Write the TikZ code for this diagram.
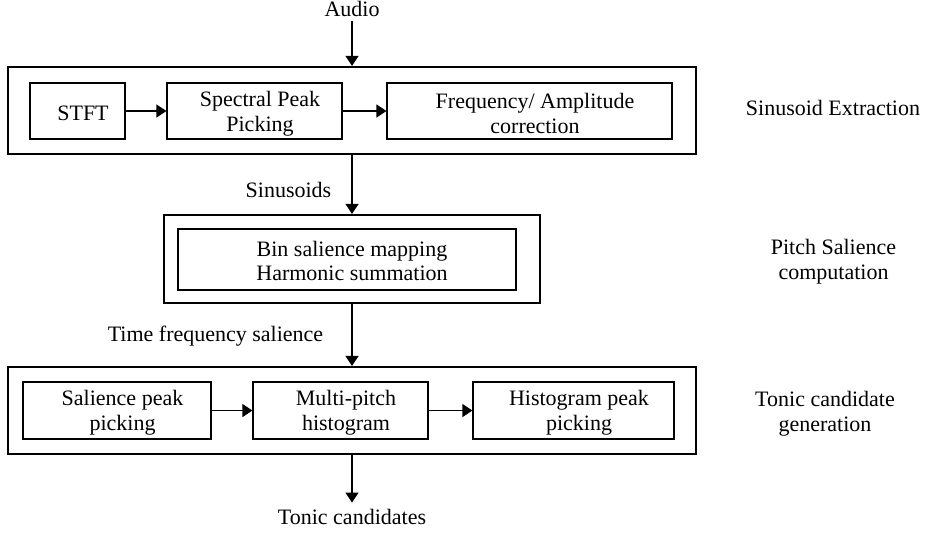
\documentclass[tikz,border=0pt]{standalone}
\usepackage{fontspec}
\setmainfont{Liberation Serif}
\usetikzlibrary{arrows.meta}
\begin{document}
\begin{tikzpicture}[x=1pt,y=-1pt,
  every node/.style={font=\fontsize{22}{25}\selectfont},
  grp/.style={draw, line width=2.2pt, inner sep=0pt},
  blk/.style={draw, line width=1.2pt, inner sep=0pt},
  txt/.style={inner sep=0pt, align=center},
  intext/.style={txt, xshift=5.5pt, yshift=-2.5pt},
  arr/.style={line width=1.2pt, -{Triangle[length=10pt,width=13pt]}}]
\useasboundingbox (0,0) rectangle (925,536);

% stage 1: sinusoid extraction
\node[txt, anchor=base] (audio) at (352,16) {Audio};
\node[grp, minimum width=688pt, minimum height=87pt] (ext) at (352,110.5) {};
\node[blk, minimum width=95pt, minimum height=56pt,
      label={[intext]center:STFT}] (stft) at (77.5,111) {};
\node[blk, minimum width=175pt, minimum height=56pt,
      label={[intext]center:Spectral Peak\\Picking}] (spp) at (254.5,111) {};
\node[blk, minimum width=285pt, minimum height=56pt,
      label={[intext]center:Frequency/ Amplitude\\correction}] (fac) at (529.5,111) {};
\node[txt, anchor=base] (lext) at (833,115) {Sinusoid Extraction};

\draw[arr, shorten <=5pt] (audio.south) -- (ext.north);
\draw[arr] (stft) -- (spp);
\draw[arr] (spp) -- (fac);

% stage 2: pitch salience
\node[txt, anchor=base] (sin) at (288.5,197) {Sinusoids};
\node[grp, minimum width=376pt, minimum height=88pt] (sal) at (352,259) {};
\node[blk, minimum width=338pt, minimum height=61pt,
      label={[txt, xshift=5pt, yshift=-1pt]center:Bin salience mapping\\[-1pt]Harmonic summation}] (bsm) at (347,259.5) {};
\node[txt] (lsal) at (833.5,262) {Pitch Salience\\computation};

\draw[arr] (ext.south) -- (sal.north);

% stage 3: tonic candidate generation
\node[txt, anchor=base] (tfs) at (215.5,341.5) {Time frequency salience};
\node[grp, minimum width=688pt, minimum height=87pt] (gen) at (352,410.5) {};
\node[blk, minimum width=188pt, minimum height=57pt,
      label={[intext]center:Salience peak\\picking}] (spk) at (117,410.5) {};
\node[blk, minimum width=175pt, minimum height=57pt,
      label={[intext]center:Multi-pitch\\histogram}] (mph) at (340.5,410.5) {};
\node[blk, minimum width=201pt, minimum height=57pt,
      label={[intext]center:Histogram peak\\picking}] (hpp) at (573.5,410.5) {};
\node[txt] (lgen) at (825,414) {Tonic candidate\\generation};
\node[txt, anchor=base] (out) at (352,524.5) {Tonic candidates};

\draw[arr] (sal.south) -- (gen.north);
\draw[arr] (spk) -- (mph);
\draw[arr] (mph) -- (hpp);
\draw[arr, shorten >=6.5pt] (gen.south) -- (out.north);
\end{tikzpicture}
\end{document}
